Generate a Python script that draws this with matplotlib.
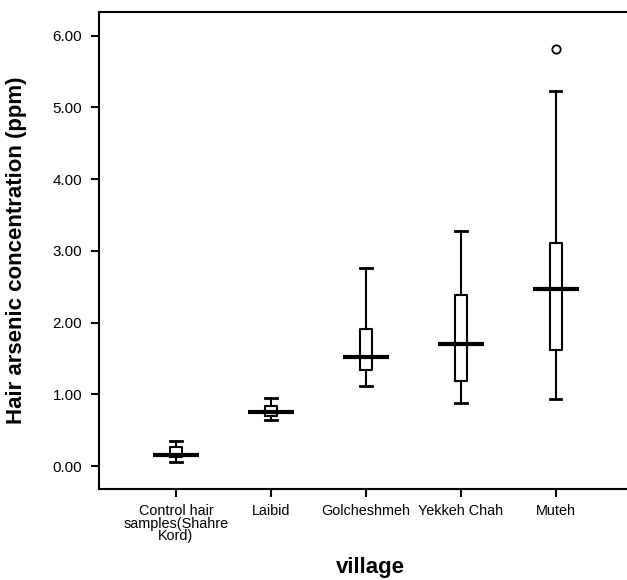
import matplotlib
matplotlib.use("Agg")
import matplotlib.pyplot as plt

plt.rcParams['font.family'] = ['Liberation Sans', 'DejaVu Sans']

categories = ["Control hair\nsamples(Shahre\nKord)", "Laibid", "Golcheshmeh", "Yekkeh Chah", "Muteh"]
whisker_low = [0.05, 0.64, 1.12, 0.88, 0.94]
q1 = [0.12, 0.70, 1.34, 1.19, 1.62]
median = [0.16, 0.76, 1.52, 1.70, 2.47]
q3 = [0.26, 0.84, 1.91, 2.38, 3.11]
whisker_high = [0.35, 0.95, 2.76, 3.27, 5.23]
outliers = [[], [], [], [], [5.82]]
yticks = [0.0, 1.0, 2.0, 3.0, 4.0, 5.0, 6.0]

W, H = 627, 580
fig = plt.figure(figsize=(W / 100, H / 100), dpi=100)
ax = fig.add_axes([99 / W, (H - 489) / H, (W - 99) / W, (489 - 12) / H])

stats = []
for i in range(len(categories)):
    stats.append(dict(whislo=whisker_low[i], q1=q1[i], med=median[i], q3=q3[i],
                      whishi=whisker_high[i], fliers=outliers[i]))
pos = list(range(1, len(categories) + 1))
ax.bxp(stats, positions=pos, widths=0.13, capwidths=0.12, showfliers=True,
       boxprops=dict(color='black', linewidth=1.5),
       whiskerprops=dict(color='black', linewidth=1.5),
       capprops=dict(color='black', linewidth=2.0),
       medianprops=dict(linewidth=0),
       flierprops=dict(marker='o', markersize=6, markerfacecolor='white',
                       markeredgecolor='black', markeredgewidth=1.3))
ax.hlines(median, [p - 0.24 for p in pos], [p + 0.24 for p in pos],
          colors='black', linewidth=3)

ax.set_xlim(0.19, 5.75)
ax.set_ylim(-0.32, 6.33)
ax.set_yticks(yticks)
ax.set_yticklabels([f"{v:.2f}" for v in yticks], fontsize=11)
ax.set_xticks(pos)
ax.set_xticklabels(categories, fontsize=10.4, linespacing=0.85)
ax.tick_params(direction='out', length=6, width=1.5, color='black')
ax.tick_params(axis='y', pad=6)
ax.tick_params(axis='x', pad=5)
for s in ['left', 'top', 'bottom']:
    ax.spines[s].set_linewidth(1.5)
ax.spines['right'].set_visible(False)

fig.text(17 / W, 1 - 250 / H, "Hair arsenic concentration (ppm)", fontsize=16,
         fontweight='bold', rotation=90, ha='center', va='center')
fig.text(370 / W, 1 - 578 / H, "village", fontsize=16, fontweight='bold',
         ha='center', va='bottom')

fig.savefig("out.png", dpi=100)
